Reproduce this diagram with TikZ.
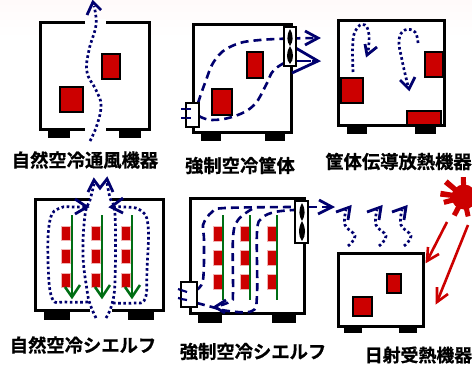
\documentclass[tikz,border=0pt]{standalone}
\usepackage{fontspec}
\setmainfont{Noto Sans CJK JP Bold}[FakeBold=0.8]
\usetikzlibrary{calc}
\definecolor{airnavy}{RGB}{0,0,110}
\definecolor{hotred}{RGB}{204,0,0}
\definecolor{finegreen}{RGB}{0,110,20}
\tikzset{
  x=1pt,y=-1pt,
  chassis/.style={draw=black,line width=3pt,fill=white},
  foot/.style={fill=black,draw=none},
  heater/.style={draw=black,line width=2.6pt,fill=hotred},
  chip/.style={fill=hotred,draw=hotred!30,line width=.5pt},
  airdot/.style={draw=airnavy,line width=2.7pt,dash pattern=on 2.6pt off 2.6pt},
  airdash/.style={draw=airnavy,line width=2.6pt,dash pattern=on 8pt off 5pt},
  chevron/.style={draw=airnavy,line width=2.8pt,line join=miter},
  flow/.style={draw=finegreen,line width=2.4pt},
  sunray/.style={draw=hotred,line width=2.6pt},
  gap/.style={fill=white,draw=none},
  smallbox/.style={fill=white,draw=black,line width=2.2pt},
  caption/.style={inner sep=0pt,font=\fontsize{18.3}{18.3}\selectfont,text=black,anchor=center},
}
\begin{document}
\begin{tikzpicture}
\useasboundingbox (0,0) rectangle (472,367);
\shade[top color=black!5!red!2!white,bottom color=white,draw=none] (0,0) rectangle (472,38);

% ---- Panel 1
\fill[foot] (48,129) rectangle (70,138);
\fill[foot] (119,129) rectangle (141,138);
\draw[chassis] (40,22) rectangle (149,129);
\fill[gap] (85,19) rectangle (106,26);
\fill[gap] (85,126) rectangle (106,132);
\draw[heater] (60,87) rectangle (83,112);
\draw[heater] (102,54) rectangle (120,79);
\draw[airdot] plot[smooth,tension=.7] coordinates {(90,141) (97,125) (101,105) (96,90) (87,72) (89,50) (96,25) (94,6)};
\draw[chevron] (87,15) -- (93,2) -- (101,10);
\node[caption] (cap1) at (85,160) {自然空冷通風機器};

% ---- Panel 2
\fill[foot] (201,132) rectangle (221,141);
\fill[foot] (265,132) rectangle (285,141);
\draw[chassis] (193,24) rectangle (291,132);
\draw[heater] (212,89) rectangle (232,115);
\draw[heater] (247,52) rectangle (263,78);
\draw[airdash] plot[smooth,tension=.7] coordinates {(198,103) (205,83) (215,60) (232,46) (260,40) (316,38)};
\draw[airdash] plot[smooth,tension=.7] coordinates {(199,116) (212,120) (235,116) (254,105) (266,85) (274,70) (290,60)};
\draw[airdash,dash pattern=on 14pt off 1pt] (297,61) -- (316,61);
\draw[chevron] (305,31) -- (318,38) -- (305,45);
\draw[chevron] (294,47) -- (318,61) -- (292,73);
\draw[smallbox] (284,27) rectangle (296,66);
\fill[black] (290,29) .. controls (294,36) and (293,42) .. (290,46) .. controls (294,52) and (294,60) .. (290,64) .. controls (286,60) and (286,52) .. (290,46) .. controls (287,42) and (286,36) .. (290,29);
\draw[airnavy,line width=2.2pt] (181,109) -- (191,109) (181,118) -- (191,118);
\draw[smallbox] (186,103) rectangle (199,127);
\draw[airnavy,line width=2.2pt] (186,109) -- (191,109) (186,118) -- (191,118);
\node[caption] (cap2) at (240,165.5) {強制空冷筐体};

% ---- Panel 3
\fill[foot] (347,125) rectangle (367,134);
\fill[foot] (415,125) rectangle (436,134);
\draw[chassis] (338,20) rectangle (444,125);
\draw[heater] (341,78) rectangle (363,103);
\draw[heater] (425,52) rectangle (443,77);
\draw[heater] (407,111) rectangle (441,125);
\draw[airdot] plot[smooth,tension=.7] coordinates {(353,72) (353,40) (358,27) (365,25) (369,35) (368,53)};
\draw[chevron] (365,44) -- (367,55) -- (377,47);
\draw[airdot] plot[smooth,tension=.7] coordinates {(418,43) (415,32) (405,30) (399,40) (402,60) (408,86)};
\draw[chevron] (400,80) -- (409,89) -- (415,77);
\node[caption] (cap3) at (398.5,161.5) {筐体伝導放熱機器};

% ---- Panel 4
\fill[foot] (44,310) rectangle (70,320);
\fill[foot] (128,310) rectangle (154,320);
\draw[chassis] (35,199) rectangle (163,310);
\fill[gap] (90,196) rectangle (112,202);
\fill[gap] (90,307) rectangle (112,313);
\foreach \cx in {61,91,121} \foreach \ry in {226,249,273}
  \fill[chip] (\cx,\ry) rectangle ++(9.5,14);
\foreach \fx in {72,102,132} {
  \draw[flow] (\fx,215) -- (\fx,297);
  \draw[flow,line width=2.6pt] ($(\fx,297)+(-7,-10)$) -- (\fx,297) -- ($(\fx,297)+(8,-12)$);
}
\draw[airdot] plot[smooth,tension=.7] coordinates {(88,302) (65,302) (52,298) (48,260) (50,220) (60,208) (75,207) (86,207)};
\draw[airdot] plot[smooth,tension=.7] coordinates {(96,318) (90,304) (87,290) (83,255) (85,215) (90,200) (94,184)};
\draw[airdot] plot[smooth,tension=.7] coordinates {(106,318) (112,304) (115,280) (115,215) (110,198) (107,183)};
\draw[airdot] plot[smooth,tension=.7] coordinates {(113,303) (133,303) (145,299) (147,270) (148,225) (140,210) (125,207) (114,207)};
\draw[chevron] (75,199) -- (87,207) -- (75,214);
\draw[chevron] (123,198) -- (111,207) -- (123,213);
\draw[chevron] (88,192) -- (94,180) -- (100,188) -- (107,179) -- (113,192);
\node[caption] (cap4) at (83,345) {自然空冷シエルフ};

% ---- Panel 5
\fill[foot] (198,313) rectangle (222,323);
\fill[foot] (272,313) rectangle (296,323);
\draw[chassis] (190,198) rectangle (304,313);
\foreach \cx in {213,240,267} \foreach \ry in {226,250,274}
  \fill[chip] (\cx,\ry) rectangle ++(9,15);
\foreach \gx in {223,250,277}
  \draw[flow] (\gx,215) -- (\gx,300);
\draw[airdash] plot[smooth,tension=.6] coordinates {(196,290) (203,280) (204,240) (203,225) (212,212) (225,208) (295,207)};
\draw[airdash] (309,207) -- (330,207);
\draw[airdash] plot[smooth,tension=.6] coordinates {(197,303) (212,307) (228,311) (252,311) (257,295) (257,232) (262,218) (275,212) (294,210)};
\draw[airdash] plot[smooth,tension=.6] coordinates {(252,209) (238,220) (233,238) (233,292) (231,301) (218,306)};
\draw[chevron] (226,300) -- (215,307) -- (225,313);
\draw[chevron] (319,200) -- (332,207) -- (318,214);
\draw[smallbox] (295,201) rectangle (308,243);
\fill[black] (302,203) .. controls (306,210) and (305,216) .. (302,221) .. controls (306,228) and (306,236) .. (302,241) .. controls (298,236) and (298,228) .. (302,221) .. controls (299,216) and (298,210) .. (302,203);
\draw[airnavy,line width=2.2pt] (178,289) -- (187,292) (178,298) -- (187,300);
\draw[smallbox] (181,282) rectangle (197,307);
\draw[airnavy,line width=2.2pt] (181,290) -- (187,292) (181,299) -- (187,300);
\node[caption] (cap5) at (253,351.5) {強制空冷シエルフ};

% ---- Panel 6
\fill[foot] (344,326) rectangle (362,333);
\fill[foot] (399,326) rectangle (417,333);
\draw[chassis] (338,253) rectangle (423,326);
\draw[heater] (353,297) rectangle (372,316);
\draw[heater] (387,274) rectangle (401,293);
\foreach \sx in {0,31,56} {
  \begin{scope}[shift={(\sx,0)}]
  \draw[airdot] plot[smooth,tension=.7] coordinates {(348,246) (355,236) (345,225) (346,210)};
  \draw[chevron] (336,212) -- (350,207) -- (348,220);
  \end{scope}
}
\coordinate (sun) at (464,197);
\fill[hotred] (sun) circle (12.5);
\foreach \a/\t in {-172/24,-140/24,-92/20,-30/21,40/21,78/20,118/21,165/21} {
  \fill[hotred] ($(sun)+(\a-15:10)$) -- ($(sun)+(\a-7:\t)$) -- ($(sun)+(\a+7:\t)$) -- ($(sun)+(\a+15:10)$) -- cycle;
}
\draw[sunray] (447,222) -- (427,261);
\draw[sunray] (428,247) -- (427,261) -- (439,254);
\draw[sunray] (468,225) -- (437,302);
\draw[sunray] (437,287) -- (437,302) -- (448,294);
\node[caption,font=\fontsize{17.9}{17.9}\selectfont] (cap6) at (418.5,355) {日射受熱機器};
\end{tikzpicture}
\end{document}
